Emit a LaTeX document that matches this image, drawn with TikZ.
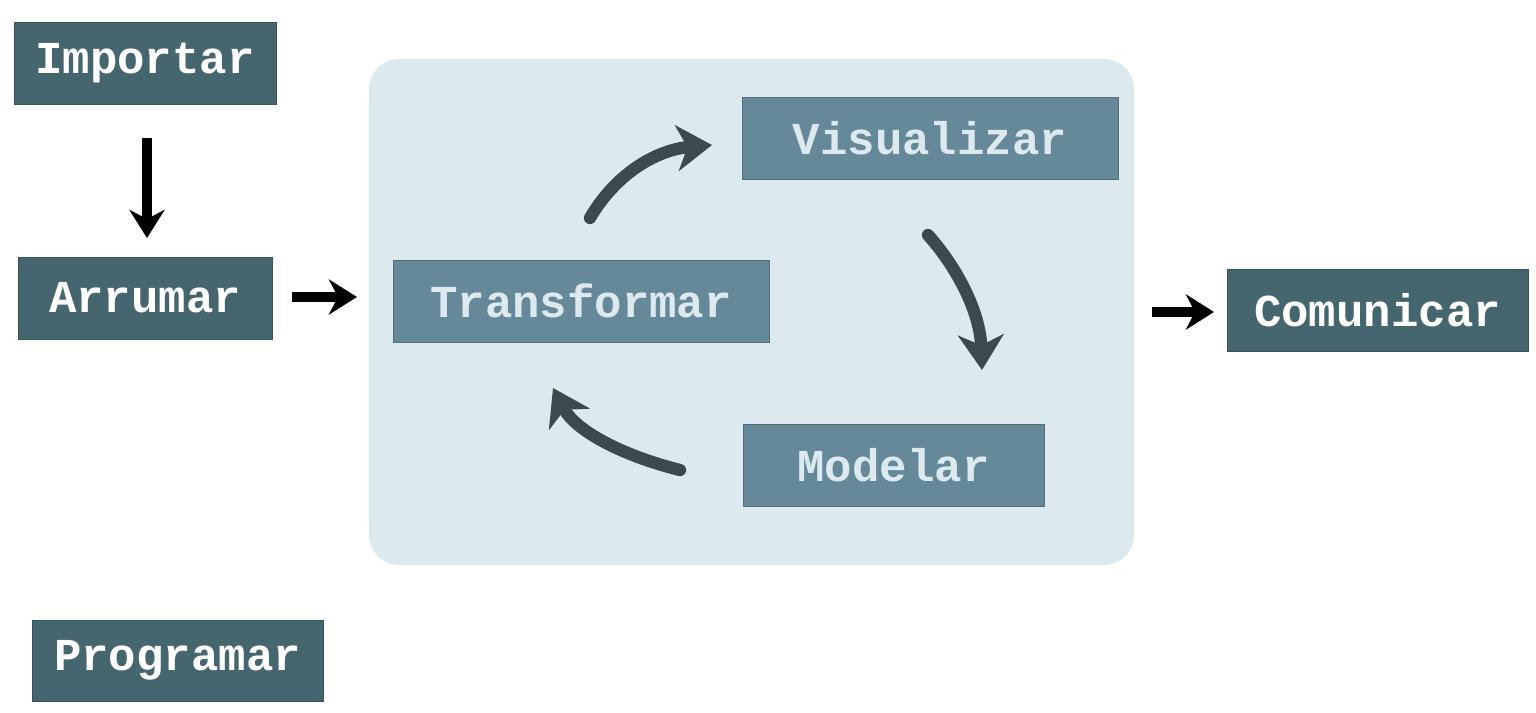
\documentclass[tikz,border=0pt]{standalone}
\usepackage{fontspec}
\setmonofont{Liberation Mono}
\usetikzlibrary{arrows.meta}
\definecolor{dk}{HTML}{45666F}
\definecolor{md}{HTML}{66899A}
\definecolor{bg}{HTML}{DCEAF0}
\definecolor{ar}{HTML}{3A4A50}
\begin{document}
\begin{tikzpicture}[x=0.02cm,y=-0.02cm,
 outbox/.style={fill=dk,draw=dk!80!black,text=white,inner sep=0,font=\ttfamily\bfseries\fontsize{26}{26}\selectfont},
 inbox/.style={fill=md,draw=md!80!black,text=bg,inner sep=0,font=\ttfamily\bfseries\fontsize{26}{26}\selectfont},
 blk/.style={line width=6pt,-{Stealth[length=16pt,width=20pt]}},
 cur/.style={line width=7pt,ar,line cap=round,-{Stealth[length=20pt,width=26pt,inset=6pt]}}]
\useasboundingbox (0,0) rectangle (1536,713);
\fill[bg,rounded corners=0.6cm] (369,59) rectangle (1134,565);
\node[outbox,minimum width=262*0.02cm,minimum height=82*0.02cm] (imp) at (145,63) {Importar};
\node[outbox,minimum width=254*0.02cm,minimum height=82*0.02cm] (arr) at (145,298) {Arrumar};
\node[outbox,minimum width=291*0.02cm,minimum height=81*0.02cm] (prog) at (177.5,660.5) {Programar};
\node[outbox,minimum width=301*0.02cm,minimum height=82*0.02cm] (com) at (1377.5,310) {Comunicar};
\node[inbox,minimum width=376*0.02cm,minimum height=82*0.02cm] (tra) at (581,301) {Transformar};
\node[inbox,minimum width=376*0.02cm,minimum height=82*0.02cm] (vis) at (930,138) {Visualizar};
\node[inbox,minimum width=301*0.02cm,minimum height=82*0.02cm] (mod) at (893.5,465) {Modelar};
\coordinate (a1) at (147,138); \coordinate (a2) at (147,238);
\coordinate (b1) at (292,297); \coordinate (b2) at (357,297);
\coordinate (c1) at (1152,312); \coordinate (c2) at (1214,312);
\draw[blk] (a1) -- (a2);
\draw[blk] (b1) -- (b2);
\draw[blk] (c1) -- (c2);
\coordinate (t1) at (590,218); \coordinate (v1) at (712,145);
\coordinate (v2) at (928,235); \coordinate (m1) at (982,370);
\coordinate (m2) at (680,470); \coordinate (t2) at (553,388);
\draw[cur] (t1) .. controls (615,175) and (655,150) .. (v1);
\draw[cur] (v2) .. controls (955,265) and (980,310) .. (m1);
\draw[cur] (m2) .. controls (620,455) and (575,430) .. (t2);
\end{tikzpicture}
\end{document}
